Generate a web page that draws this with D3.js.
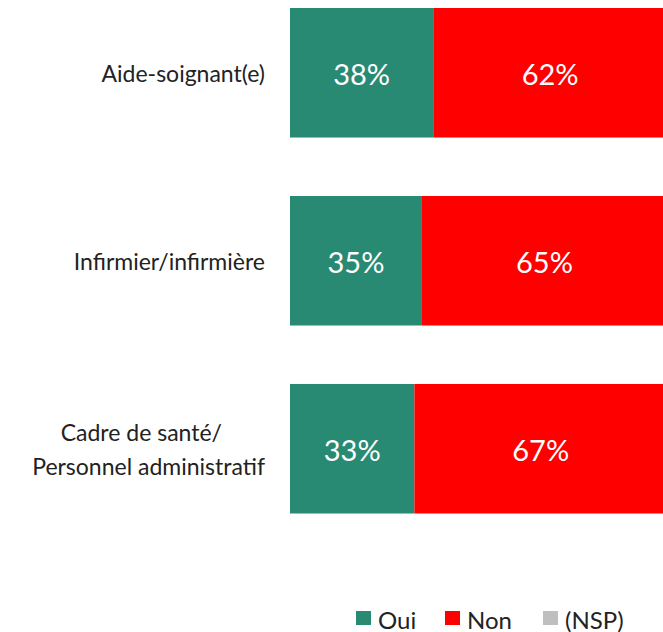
<!DOCTYPE html>
<html>
<head>
<meta charset="utf-8">
<script src="https://cdn.jsdelivr.net/npm/d3@7"></script>
<style>
  body { margin: 0; background: #fff; }
  svg text { font-family: Lato, "Open Sans", sans-serif; }
</style>
</head>
<body>
<div id="chart"></div>
<script>
// data
var categories = ["Aide-soignant(e)", "Infirmier/infirmière", "Cadre de santé/\nPersonnel administratif"];
var seriesNames = ["Oui", "Non", "(NSP)"];
var oui = [38, 35, 33];
var non = [62, 65, 67];
var nsp = [0, 0, 0];
var colors = ["#298A74", "#FF0000", "#BFBFBF"];

var width = 663, height = 632;

var rows = categories.map(function(c, i) {
  return { cat: c, "Oui": oui[i], "Non": non[i], "(NSP)": nsp[i] };
});

var svg = d3.select("#chart").append("svg")
  .attr("width", width)
  .attr("height", height);

var x = d3.scaleLinear().domain([0, 100]).range([290, 667]);
var y = d3.scaleBand().domain(categories).range([8, 513.5]).paddingInner(0.311).paddingOuter(0);

var stack = d3.stack().keys(seriesNames)(rows);

var layers = svg.selectAll("g.layer")
  .data(stack)
  .enter().append("g")
  .attr("class", "layer")
  .style("fill", function(d, i) { return colors[i]; });

layers.selectAll("rect")
  .data(function(d) { return d; })
  .enter().append("rect")
  .attr("x", function(d) { return x(d[0]); })
  .attr("y", function(d) { return y(d.data.cat); })
  .attr("width", function(d) { return x(d[1]) - x(d[0]); })
  .attr("height", y.bandwidth());

// percentage labels inside segments
layers.selectAll("text")
  .data(function(d) { return d.filter(function(s) { return s[1] - s[0] > 0; }); })
  .enter().append("text")
  .attr("x", function(d) { return (x(d[0]) + x(d[1])) / 2; })
  .attr("y", function(d) { return y(d.data.cat) + y.bandwidth() / 2 + 1; })
  .attr("text-anchor", "middle")
  .attr("dominant-baseline", "central")
  .style("fill", "#fff")
  .style("font-size", "29px")
  .text(function(d) { return (d[1] - d[0]) + "%"; });

// category labels
var lineOffsets = [-43, 0];
var cats = svg.selectAll("text.cat")
  .data(categories)
  .enter().append("text")
  .attr("class", "cat")
  .attr("text-anchor", "end")
  .style("font-size", "23px")
  .style("fill", "#222");

cats.each(function(c) {
  var lines = c.split("\n");
  var el = d3.select(this);
  var cy = y(c) + y.bandwidth() / 2;
  var lh = 34;
  lines.forEach(function(l, j) {
    el.append("tspan")
      .attr("x", 265 + (lines.length > 1 ? lineOffsets[j] : 0))
      .attr("y", cy + (j - (lines.length - 1) / 2) * lh)
      .attr("dominant-baseline", "central")
      .text(l);
  });
});

// legend
var legendX = [356, 445, 543];
var legend = svg.selectAll("g.legend")
  .data(seriesNames)
  .enter().append("g")
  .attr("class", "legend")
  .attr("transform", function(d, i) { return "translate(" + legendX[i] + ",611)"; });

legend.append("rect")
  .attr("width", 15)
  .attr("height", 14)
  .style("fill", function(d, i) { return colors[i]; });

legend.append("text")
  .attr("x", 22)
  .attr("y", 8)
  .attr("dominant-baseline", "central")
  .style("font-size", "24px")
  .style("fill", "#222")
  .text(function(d) { return d; });
</script>
</body>
</html>
